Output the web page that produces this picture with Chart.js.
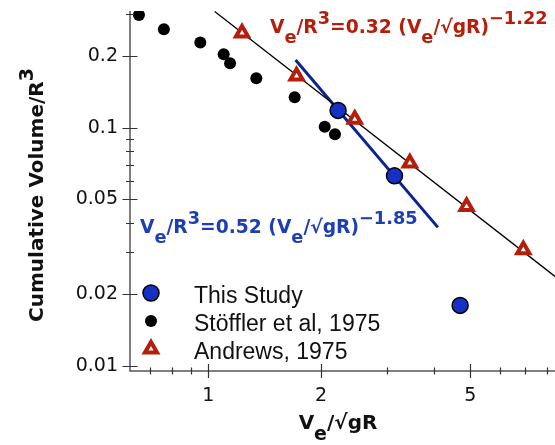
<!DOCTYPE html>
<html>
<head>
<meta charset="utf-8">
<script src="https://cdn.jsdelivr.net/npm/chart.js@4.4.0/dist/chart.umd.min.js"></script>
<style>
  html, body { margin: 0; padding: 0; background: #fff; }
  canvas { display: block; }
</style>
</head>
<body>
<canvas id="myChart" width="555" height="445"></canvas>
<script>
// ** data
const thisStudyX = [2.22, 3.14, 4.70]
const thisStudyY = [0.118, 0.0628, 0.0180]
const stofflerX = [0.653, 0.761, 0.952, 1.099, 1.143, 1.343, 1.70, 2.045, 2.178]
const stofflerY = [0.296, 0.258, 0.227, 0.203, 0.186, 0.161, 0.134, 0.1007, 0.0938]
const andrewsX = [1.23, 1.72, 2.46, 3.45, 4.89, 6.93]
const andrewsY = [0.249, 0.1646, 0.1084, 0.0710, 0.0467, 0.0308]

// fit lines, end points
const andrewsFitX = [1.04, 8.42]
const andrewsFitY = [0.306, 0.0238]
const studyFitX = [1.71, 4.10]
const studyFitY = [0.192, 0.0382]

// ** ticks
const xTicks = [1, 2, 5]
const xMinor = [0.7, 0.8, 0.9, 3, 4, 6, 7, 8]
const yTicks = [0.01, 0.02, 0.05, 0.1, 0.2]
const yMinor = [0.03, 0.04, 0.06, 0.07, 0.08, 0.09, 0.3]

const seriesNames = ['This Study', 'St\u00f6ffler et al, 1975', 'Andrews, 1975']

const RED = '#b41e0a'
const BLUE = '#1530c3'
const NAVY = '#0b2590'
const BLUE_TXT = '#1e3fb4'
const AXIS = '#555'

const pts = (xs, ys) => xs.map((x, i) => ({ x: x, y: ys[i] }))

// bold text with sub (-1) / sup (1) parts
function richText(ctx, parts, x, y, size, color, center) {
  ctx.save()
  ctx.fillStyle = color
  ctx.textBaseline = 'alphabetic'
  ctx.textAlign = 'left'
  const font = s => 'bold ' + s + 'px "DejaVu Sans"'
  if (center) {
    let w = 0
    for (const [t, k] of parts) {
      ctx.font = font(k === 0 ? size : size * 0.95)
      w += ctx.measureText(t).width
    }
    x -= w / 2
  }
  for (const [t, k] of parts) {
    const s = k === 0 ? size : size * 0.95
    const dy = k === -1 ? size * 0.55 : k === 1 ? -size * 0.5 : 0
    ctx.font = font(s)
    ctx.fillText(t, x, y + dy)
    x += ctx.measureText(t).width
  }
  ctx.restore()
}

// no extra room for end labels, the plot box is set by hand
const noPad = s => {
  s.paddingTop = 0
  s.paddingBottom = 0
  s.paddingLeft = 0
  s.paddingRight = 0
}

const decor = {
  id: 'decor',
  afterDraw(chart) {
    const ctx = chart.ctx
    const xs = chart.scales.x
    const ys = chart.scales.y
    const a = chart.chartArea

    // axes with ticks crossing the line
    ctx.save()
    ctx.strokeStyle = AXIS
    ctx.lineWidth = 1.5
    ctx.beginPath()
    ctx.moveTo(a.left, a.top)
    ctx.lineTo(a.left, a.bottom)
    ctx.lineTo(a.right, a.bottom)
    ctx.stroke()
    ctx.lineWidth = 1.2
    ctx.strokeStyle = '#333'
    ctx.beginPath()
    const yt = (v, h) => {
      const p = Math.round(ys.getPixelForValue(v)) + 0.5
      ctx.moveTo(a.left - h, p)
      ctx.lineTo(a.left + h, p)
    }
    const xt = (v, h) => {
      const p = Math.round(xs.getPixelForValue(v)) + 0.5
      ctx.moveTo(p, a.bottom - h)
      ctx.lineTo(p, a.bottom + h)
    }
    yTicks.forEach(v => yt(v, 7.5))
    yMinor.forEach(v => yt(v, 4))
    xTicks.forEach(v => xt(v, 7))
    xMinor.forEach(v => xt(v, 3.5))
    ctx.stroke()
    ctx.restore()

    // axis titles
    ctx.save()
    ctx.translate(43, 195)
    ctx.rotate(-Math.PI / 2)
    richText(ctx, [['Cumulative Volume/R', 0], ['3', 1]], 0, 0, 20, '#111', true)
    ctx.restore()
    richText(ctx, [['V', 0], ['e', -1], ['/\u221agR', 0]], 338, 429, 20, '#111', true)

    // fit equations
    richText(ctx, [['V', 0], ['e', -1], ['/R', 0], ['3', 1], ['=0.32 (V', 0], ['e', -1], ['/\u221agR)', 0], ['\u22121.22', 1]],
      270, 33, 18.7, RED, false)
    richText(ctx, [['V', 0], ['e', -1], ['/R', 0], ['3', 1], ['=0.52 (V', 0], ['e', -1], ['/\u221agR)', 0], ['\u22121.85', 1]],
      140, 233, 18.7, BLUE_TXT, false)

    // legend
    ctx.save()
    const lx = a.left + 21
    seriesNames.forEach((name, i) => {
      const ds = chart.data.datasets[i]
      const ly = a.bottom - 78 + 28 * i
      ctx.fillStyle = ds.backgroundColor
      ctx.strokeStyle = ds.borderColor
      ctx.lineWidth = ds.borderWidth
      Chart.helpers.drawPoint(ctx, { pointStyle: ds.pointStyle, radius: ds.pointRadius, borderWidth: ds.borderWidth, rotation: 0 }, lx, ly)
      ctx.fillStyle = '#111'
      ctx.font = '23px "Liberation Sans"'
      ctx.textBaseline = 'alphabetic'
      ctx.fillText(name, a.left + 64, ly + 9.5)
    })
    ctx.restore()
  }
}

const ctx = document.getElementById('myChart').getContext('2d')
const myChart = new Chart(ctx, {
  type: 'scatter',
  data: {
    datasets: [
      {
        label: seriesNames[0],
        data: pts(thisStudyX, thisStudyY),
        pointStyle: 'circle',
        pointRadius: 8,
        backgroundColor: BLUE,
        borderColor: '#000',
        borderWidth: 1.5
      },
      {
        label: seriesNames[1],
        data: pts(stofflerX, stofflerY),
        pointStyle: 'circle',
        pointRadius: 6,
        backgroundColor: '#000',
        borderColor: '#000',
        borderWidth: 0
      },
      {
        label: seriesNames[2],
        data: pts(andrewsX, andrewsY),
        pointStyle: 'triangle',
        pointRadius: 7,
        backgroundColor: '#fff',
        borderColor: RED,
        borderWidth: 4
      },
      {
        label: 'Andrews fit',
        data: pts(andrewsFitX, andrewsFitY),
        showLine: true,
        pointRadius: 0,
        borderColor: '#000',
        borderWidth: 1.3
      },
      {
        label: 'This Study fit',
        data: pts(studyFitX, studyFitY),
        showLine: true,
        pointRadius: 0,
        borderColor: NAVY,
        borderWidth: 3
      }
    ]
  },
  options: {
    responsive: false,
    animation: false,
    layout: { autoPadding: false, padding: { top: 11, right: 0, left: 0, bottom: 0 } },
    plugins: { legend: { display: false }, tooltip: { enabled: false } },
    scales: {
      x: {
        type: 'logarithmic',
        bounds: 'data',
        min: 0.618,
        max: 8.42,
        grid: { display: false, drawTicks: false },
        border: { display: false },
        afterBuildTicks: s => { s.ticks = xTicks.map(v => ({ value: v })) },
        afterFit: s => { s.height = 74; noPad(s) },
        ticks: {
          padding: 14,
          color: '#111',
          font: { family: 'DejaVu Sans', size: 19 },
          callback: v => String(v)
        }
      },
      y: {
        type: 'logarithmic',
        bounds: 'data',
        min: 0.00956,
        max: 0.3078,
        grid: { display: false, drawTicks: false },
        border: { display: false },
        afterBuildTicks: s => { s.ticks = yTicks.map(v => ({ value: v })) },
        afterFit: s => { s.width = 130; noPad(s) },
        ticks: {
          padding: 12,
          color: '#111',
          font: { family: 'DejaVu Sans', size: 19 },
          callback: v => String(v)
        }
      }
    }
  },
  plugins: [decor]
})
</script>
</body>
</html>
